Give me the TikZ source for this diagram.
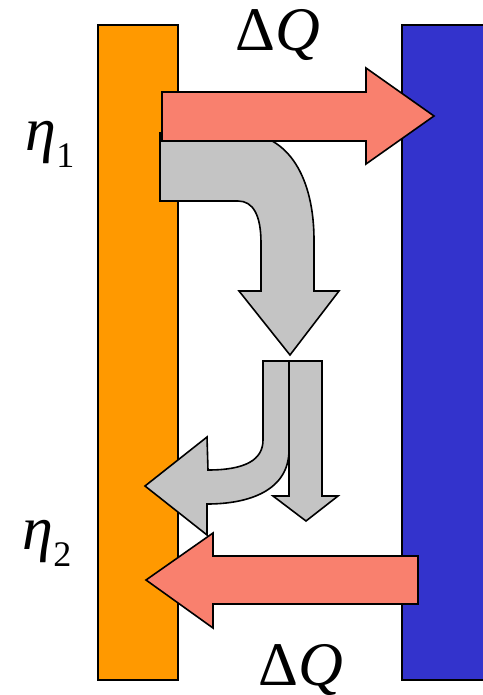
\documentclass[tikz,border=0pt]{standalone}
\usepackage{fontspec}
\setmainfont{Liberation Serif}
\definecolor{hot}{HTML}{FF9900}
\definecolor{cold}{HTML}{3333CC}
\definecolor{heat}{HTML}{F9806E}
\definecolor{flow}{HTML}{C4C4C4}
\tikzset{
  bar/.style={draw=black, line width=2pt},
  redarrow/.style={fill=heat, draw=black, line width=1.6pt, line join=miter},
  greyarrow/.style={fill=flow, draw=black, line width=1.6pt, line join=miter},
  biglabel/.style={inner sep=0pt, font=\fontsize{62}{70}\selectfont},
}
\newcommand{\etasub}[1]{\textit{η}\raisebox{-0.28em}{\fontsize{36}{40}\selectfont #1}}
\begin{document}
\begin{tikzpicture}[x=1pt, y=-1pt]
\useasboundingbox (0,0) rectangle (482,695);
% reservoirs
\draw[bar, fill=hot] (98,25) rectangle (178,680);
\draw[bar, fill=cold] (402,25) rectangle (484,680);
% grey bent arrow (top)
\draw[greyarrow] (160,133) -- (240,133) .. controls (290,133) and (314,180) .. (314,240)
  -- (314,291) -- (339,291) -- (290,355) -- (239,291) -- (261,291) -- (261,243)
  .. controls (261,215) and (253,201) .. (238,201) -- (160,201) -- cycle;
% grey bent arrow (lower left)
\draw[greyarrow] (263,361) -- (289,361) -- (289,450) .. controls (289,490) and (250,504) .. (207,504)
  -- (207,535) -- (145,486) -- (207,437) -- (208,470) .. controls (245,470) and (263,460) .. (263,440) -- cycle;
% grey straight arrow
\draw[greyarrow] (289,361) -- (322,361) -- (322,496) -- (338,496) -- (306,521) -- (273,496) -- (289,496) -- cycle;
% red arrows
\draw[redarrow] (162,92) -- (366,92) -- (366,68) -- (434,116) -- (366,164) -- (366,141) -- (162,141) -- cycle;
\draw[redarrow] (418,556) -- (213,556) -- (213,533) -- (146,580) -- (213,628) -- (213,604) -- (418,604) -- cycle;
% labels
\node[biglabel, anchor=base] (dqtop) at (278,51) {Δ\textit{Q}};
\node[biglabel, anchor=base] (dqbot) at (301,685) {Δ\textit{Q}};
\node[biglabel, anchor=base] (eta1) at (50,150) {\etasub{1}};
\node[biglabel, anchor=base] (eta2) at (47,549) {\etasub{2}};
\end{tikzpicture}
\end{document}
